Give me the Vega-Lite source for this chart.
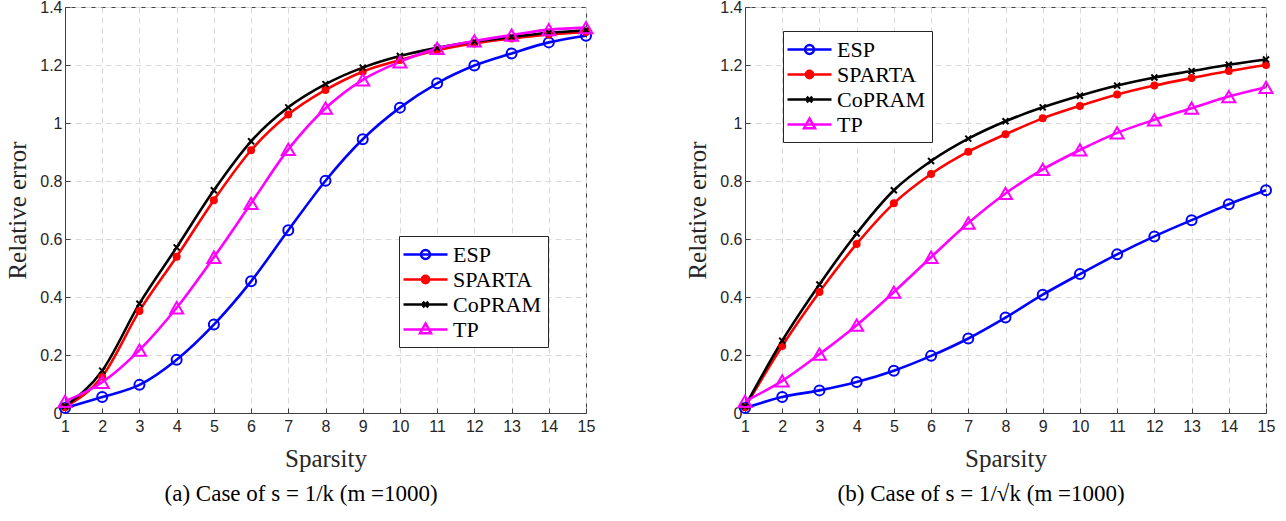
{
  "$schema": "https://vega.github.io/schema/vega-lite/v6.json",
  "background": "white",
  "padding": {"left": 5, "top": -2, "right": 0, "bottom": 0},
  "spacing": 87,
  "datasets": {
    "a": [
      {"k":1,"series":"ESP","err":0.017},{"k":2,"series":"ESP","err":0.055},{"k":3,"series":"ESP","err":0.097},{"k":4,"series":"ESP","err":0.184},{"k":5,"series":"ESP","err":0.305},{"k":6,"series":"ESP","err":0.454},{"k":7,"series":"ESP","err":0.630},{"k":8,"series":"ESP","err":0.801},{"k":9,"series":"ESP","err":0.944},{"k":10,"series":"ESP","err":1.053},{"k":11,"series":"ESP","err":1.137},{"k":12,"series":"ESP","err":1.198},{"k":13,"series":"ESP","err":1.240},{"k":14,"series":"ESP","err":1.278},{"k":15,"series":"ESP","err":1.301},
      {"k":1,"series":"SPARTA","err":0.020},{"k":2,"series":"SPARTA","err":0.126},{"k":3,"series":"SPARTA","err":0.352},{"k":4,"series":"SPARTA","err":0.539},{"k":5,"series":"SPARTA","err":0.734},{"k":6,"series":"SPARTA","err":0.906},{"k":7,"series":"SPARTA","err":1.029},{"k":8,"series":"SPARTA","err":1.114},{"k":9,"series":"SPARTA","err":1.177},{"k":10,"series":"SPARTA","err":1.217},{"k":11,"series":"SPARTA","err":1.251},{"k":12,"series":"SPARTA","err":1.274},{"k":13,"series":"SPARTA","err":1.291},{"k":14,"series":"SPARTA","err":1.305},{"k":15,"series":"SPARTA","err":1.314},
      {"k":1,"series":"CoPRAM","err":0.023},{"k":2,"series":"CoPRAM","err":0.146},{"k":3,"series":"CoPRAM","err":0.377},{"k":4,"series":"CoPRAM","err":0.571},{"k":5,"series":"CoPRAM","err":0.768},{"k":6,"series":"CoPRAM","err":0.937},{"k":7,"series":"CoPRAM","err":1.054},{"k":8,"series":"CoPRAM","err":1.134},{"k":9,"series":"CoPRAM","err":1.191},{"k":10,"series":"CoPRAM","err":1.231},{"k":11,"series":"CoPRAM","err":1.259},{"k":12,"series":"CoPRAM","err":1.281},{"k":13,"series":"CoPRAM","err":1.297},{"k":14,"series":"CoPRAM","err":1.311},{"k":15,"series":"CoPRAM","err":1.320},
      {"k":1,"series":"TP","err":0.040},{"k":2,"series":"TP","err":0.106},{"k":3,"series":"TP","err":0.217},{"k":4,"series":"TP","err":0.363},{"k":5,"series":"TP","err":0.537},{"k":6,"series":"TP","err":0.723},{"k":7,"series":"TP","err":0.909},{"k":8,"series":"TP","err":1.051},{"k":9,"series":"TP","err":1.149},{"k":10,"series":"TP","err":1.211},{"k":11,"series":"TP","err":1.257},{"k":12,"series":"TP","err":1.283},{"k":13,"series":"TP","err":1.303},{"k":14,"series":"TP","err":1.322},{"k":15,"series":"TP","err":1.329}
    ],
    "b": [
      {"k":1,"series":"ESP","err":0.017},{"k":2,"series":"ESP","err":0.055},{"k":3,"series":"ESP","err":0.078},{"k":4,"series":"ESP","err":0.107},{"k":5,"series":"ESP","err":0.146},{"k":6,"series":"ESP","err":0.197},{"k":7,"series":"ESP","err":0.257},{"k":8,"series":"ESP","err":0.329},{"k":9,"series":"ESP","err":0.408},{"k":10,"series":"ESP","err":0.479},{"k":11,"series":"ESP","err":0.547},{"k":12,"series":"ESP","err":0.609},{"k":13,"series":"ESP","err":0.665},{"k":14,"series":"ESP","err":0.720},{"k":15,"series":"ESP","err":0.768},
      {"k":1,"series":"SPARTA","err":0.020},{"k":2,"series":"SPARTA","err":0.231},{"k":3,"series":"SPARTA","err":0.417},{"k":4,"series":"SPARTA","err":0.583},{"k":5,"series":"SPARTA","err":0.723},{"k":6,"series":"SPARTA","err":0.824},{"k":7,"series":"SPARTA","err":0.901},{"k":8,"series":"SPARTA","err":0.961},{"k":9,"series":"SPARTA","err":1.016},{"k":10,"series":"SPARTA","err":1.059},{"k":11,"series":"SPARTA","err":1.098},{"k":12,"series":"SPARTA","err":1.129},{"k":13,"series":"SPARTA","err":1.155},{"k":14,"series":"SPARTA","err":1.179},{"k":15,"series":"SPARTA","err":1.200},
      {"k":1,"series":"CoPRAM","err":0.023},{"k":2,"series":"CoPRAM","err":0.249},{"k":3,"series":"CoPRAM","err":0.443},{"k":4,"series":"CoPRAM","err":0.619},{"k":5,"series":"CoPRAM","err":0.768},{"k":6,"series":"CoPRAM","err":0.869},{"k":7,"series":"CoPRAM","err":0.946},{"k":8,"series":"CoPRAM","err":1.006},{"k":9,"series":"CoPRAM","err":1.054},{"k":10,"series":"CoPRAM","err":1.094},{"k":11,"series":"CoPRAM","err":1.129},{"k":12,"series":"CoPRAM","err":1.157},{"k":13,"series":"CoPRAM","err":1.179},{"k":14,"series":"CoPRAM","err":1.201},{"k":15,"series":"CoPRAM","err":1.219},
      {"k":1,"series":"TP","err":0.040},{"k":2,"series":"TP","err":0.111},{"k":3,"series":"TP","err":0.203},{"k":4,"series":"TP","err":0.303},{"k":5,"series":"TP","err":0.417},{"k":6,"series":"TP","err":0.537},{"k":7,"series":"TP","err":0.655},{"k":8,"series":"TP","err":0.757},{"k":9,"series":"TP","err":0.840},{"k":10,"series":"TP","err":0.907},{"k":11,"series":"TP","err":0.966},{"k":12,"series":"TP","err":1.011},{"k":13,"series":"TP","err":1.051},{"k":14,"series":"TP","err":1.091},{"k":15,"series":"TP","err":1.123}
    ]
  },
  "resolve": {"scale": {"color": "independent"}, "legend": {"color": "independent"}},
  "hconcat": [
    {
      "width": 521, "height": 406,
      "data": {"name": "a"},
      "title": {"text": "(a) Case of s = 1/k (m =1000)", "orient": "bottom", "offset": 12, "frame": "bounds"},
      "encoding": {
        "x": {"field": "k", "type": "quantitative", "scale": {"domain": [1, 15], "nice": false, "zero": false},
              "axis": {"title": "Sparsity", "values": [1,2,3,4,5,6,7,8,9,10,11,12,13,14,15], "format": "d"}},
        "y": {"field": "err", "type": "quantitative", "scale": {"domain": [0, 1.4], "nice": false},
              "axis": {"title": "Relative error", "values": [0,0.2,0.4,0.6,0.8,1,1.2,1.4], "format": "~g"}}
      },
      "layer": [
        {
          "mark": {"type": "line", "interpolate": "monotone", "strokeWidth": 2.6},
          "encoding": {
            "color": {"field": "series", "type": "nominal",
              "scale": {"domain": ["ESP","SPARTA","CoPRAM","TP"], "range": ["#0000ff","#ff0000","#000000","#ff00ff"]},
              "legend": {"orient": "none", "legendX": 334, "legendY": 229,
                "encode": {"symbols": {"update": {
                  "shape": {"signal": "datum.value === 'ESP' ? 'M-2,0H2M-0.4,0A0.4,0.4 0 1,0 0.4,0A0.4,0.4 0 1,0 -0.4,0' : datum.value === 'SPARTA' ? 'M-2,0H2M-0.33,0A0.33,0.33 0 1,0 0.33,0A0.33,0.33 0 1,0 -0.33,0' : datum.value === 'CoPRAM' ? 'M-2,0H2M-0.25,-0.25L0.25,0.25M-0.25,0.25L0.25,-0.25' : 'M-2,0H2M0,-0.55L0.5,0.35L-0.5,0.35Z'"},
                  "fill": {"signal": "datum.value === 'SPARTA' ? '#ff0000' : 'transparent'"}
                }}}}
            }
          }
        },
        {"transform": [{"filter": "datum.series === 'ESP'"}], "mark": {"type": "point", "shape": "circle", "size": 100, "filled": false, "color": "#0000ff", "strokeWidth": 2, "opacity": 1}},
        {"transform": [{"filter": "datum.series === 'SPARTA'"}], "mark": {"type": "point", "shape": "circle", "size": 64, "filled": true, "color": "#ff0000", "opacity": 1}},
        {"transform": [{"filter": "datum.series === 'CoPRAM'"}], "mark": {"type": "point", "shape": "M-1,-1L1,1M-1,1L1,-1", "size": 36, "filled": false, "color": "#000000", "strokeWidth": 2, "opacity": 1}},
        {"transform": [{"filter": "datum.series === 'TP'"}], "mark": {"type": "point", "shape": "triangle-up", "size": 170, "filled": false, "color": "#ff00ff", "strokeWidth": 2, "opacity": 1}}
      ]
    },
    {
      "width": 521, "height": 406,
      "data": {"name": "b"},
      "title": {"text": "(b) Case of s = 1/√k (m =1000)", "orient": "bottom", "offset": 12, "frame": "bounds"},
      "encoding": {
        "x": {"field": "k", "type": "quantitative", "scale": {"domain": [1, 15], "nice": false, "zero": false},
              "axis": {"title": "Sparsity", "values": [1,2,3,4,5,6,7,8,9,10,11,12,13,14,15], "format": "d"}},
        "y": {"field": "err", "type": "quantitative", "scale": {"domain": [0, 1.4], "nice": false},
              "axis": {"title": "Relative error", "values": [0,0.2,0.4,0.6,0.8,1,1.2,1.4], "format": "~g"}}
      },
      "layer": [
        {
          "mark": {"type": "line", "interpolate": "monotone", "strokeWidth": 2.6},
          "encoding": {
            "color": {"field": "series", "type": "nominal",
              "scale": {"domain": ["ESP","SPARTA","CoPRAM","TP"], "range": ["#0000ff","#ff0000","#000000","#ff00ff"]},
              "legend": {"orient": "none", "legendX": 38, "legendY": 24,
                "encode": {"symbols": {"update": {
                  "shape": {"signal": "datum.value === 'ESP' ? 'M-2,0H2M-0.4,0A0.4,0.4 0 1,0 0.4,0A0.4,0.4 0 1,0 -0.4,0' : datum.value === 'SPARTA' ? 'M-2,0H2M-0.33,0A0.33,0.33 0 1,0 0.33,0A0.33,0.33 0 1,0 -0.33,0' : datum.value === 'CoPRAM' ? 'M-2,0H2M-0.25,-0.25L0.25,0.25M-0.25,0.25L0.25,-0.25' : 'M-2,0H2M0,-0.55L0.5,0.35L-0.5,0.35Z'"},
                  "fill": {"signal": "datum.value === 'SPARTA' ? '#ff0000' : 'transparent'"}
                }}}}
            }
          }
        },
        {"transform": [{"filter": "datum.series === 'ESP'"}], "mark": {"type": "point", "shape": "circle", "size": 100, "filled": false, "color": "#0000ff", "strokeWidth": 2, "opacity": 1}},
        {"transform": [{"filter": "datum.series === 'SPARTA'"}], "mark": {"type": "point", "shape": "circle", "size": 64, "filled": true, "color": "#ff0000", "opacity": 1}},
        {"transform": [{"filter": "datum.series === 'CoPRAM'"}], "mark": {"type": "point", "shape": "M-1,-1L1,1M-1,1L1,-1", "size": 36, "filled": false, "color": "#000000", "strokeWidth": 2, "opacity": 1}},
        {"transform": [{"filter": "datum.series === 'TP'"}], "mark": {"type": "point", "shape": "triangle-up", "size": 170, "filled": false, "color": "#ff00ff", "strokeWidth": 2, "opacity": 1}}
      ]
    }
  ],
  "config": {
    "view": {"stroke": "#404040", "strokeWidth": 1},
    "title": {"font": "Liberation Serif, Times New Roman, serif", "fontSize": 23, "fontWeight": "normal", "color": "black"},
    "legend": {
      "title": null, "strokeColor": "#262626", "fillColor": "white", "padding": 6,
      "symbolSize": 484, "symbolStrokeWidth": 2.5, "labelFont": "Liberation Serif, Times New Roman, serif", "labelFontSize": 22, "labelColor": "black",
      "rowPadding": 1, "symbolOffset": 8, "labelOffset": 15,
      "symbolType": "M-2,0H2"
    },
    "axis": {
      "labelFont": "Liberation Sans, Arial, sans-serif", "labelFontSize": 16, "labelColor": "#262626",
      "titleFont": "Liberation Serif, Times New Roman, serif", "titleFontSize": 25, "titleFontWeight": "normal", "titleColor": "#262626",
      "domainColor": "#404040", "domainWidth": 1,
      "tickColor": "#404040", "tickSize": -5, "labelFlush": false,
      "grid": true, "gridColor": "#d9d9d9", "gridDash": [6, 4], "gridWidth": 1
    },
    "axisX": {"labelPadding": 10, "titlePadding": 12},
    "axisY": {"labelPadding": 8, "titlePadding": 9}
  }
}
